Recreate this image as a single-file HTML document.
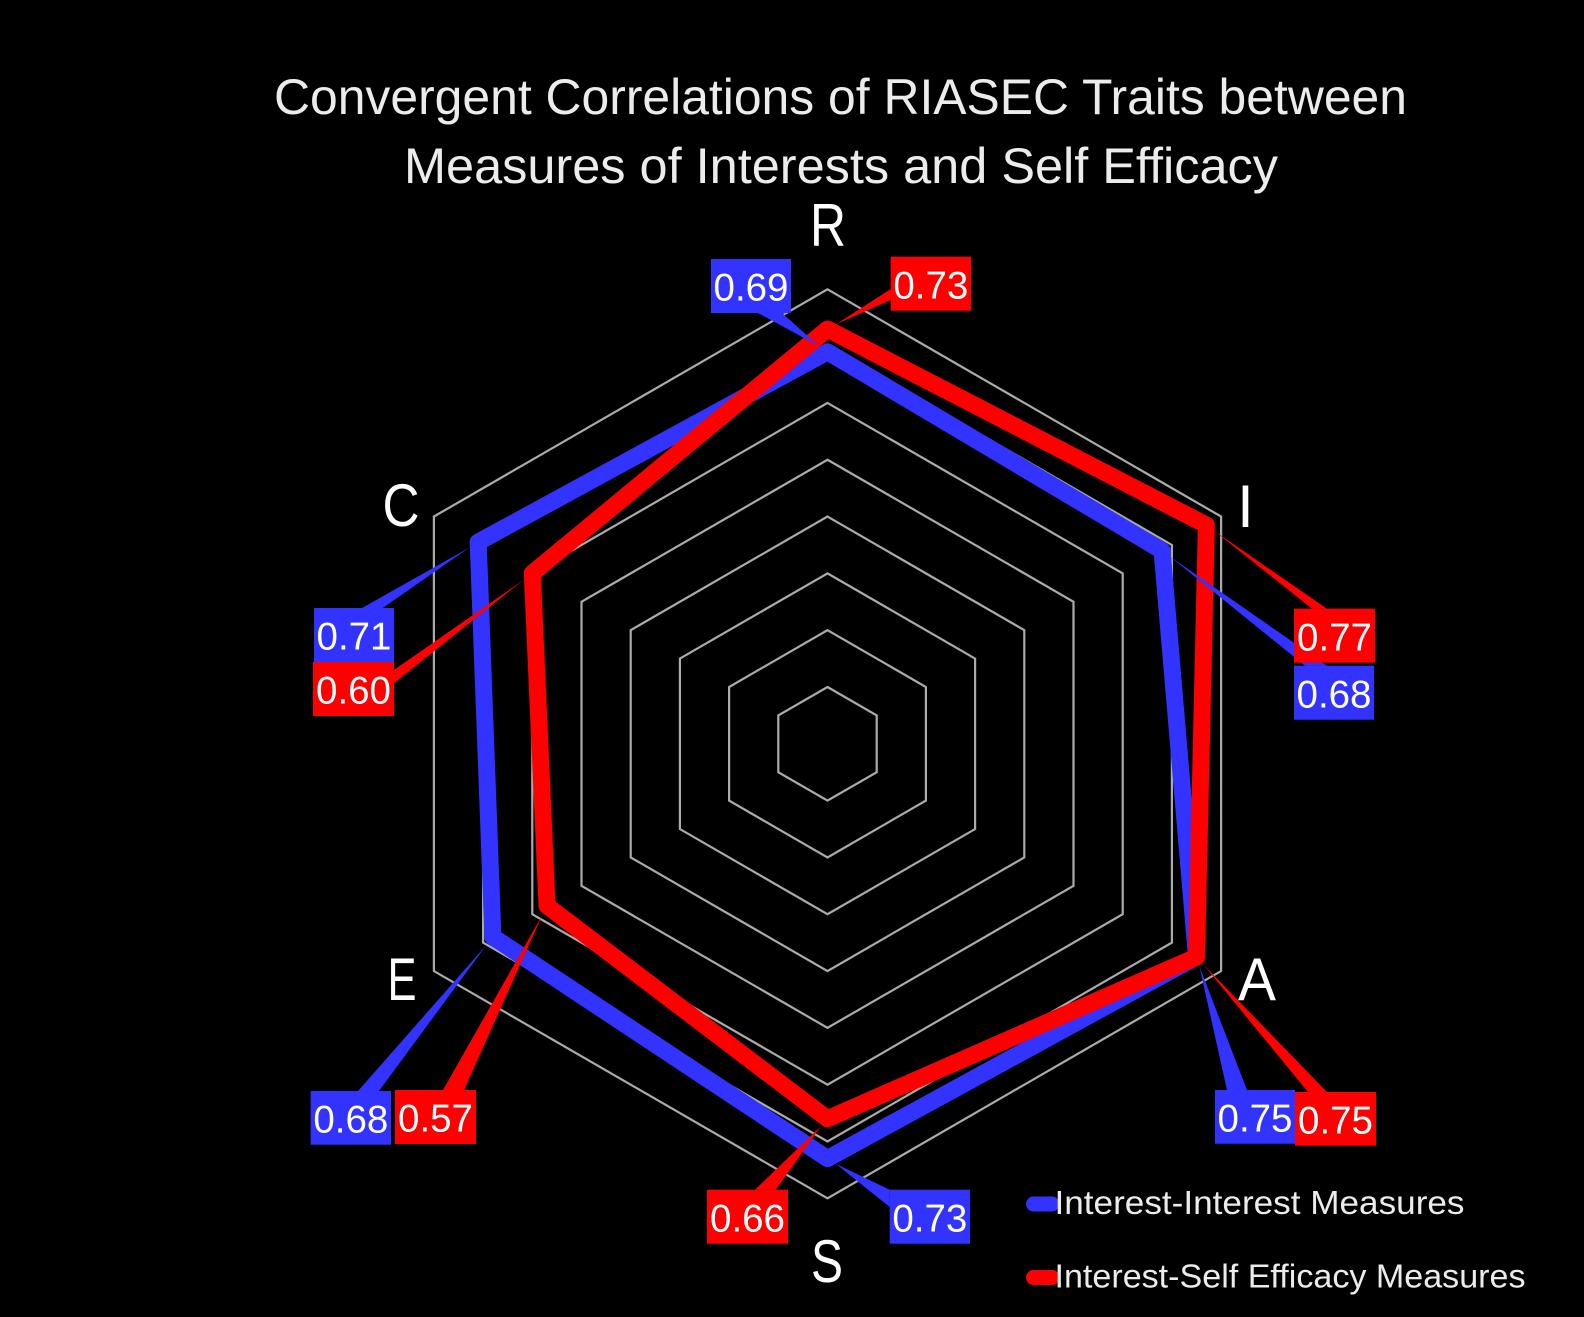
<!DOCTYPE html>
<html lang="en">
<head>
<meta charset="utf-8">
<title>Convergent Correlations of RIASEC Traits</title>
<style>
  html, body { margin: 0; padding: 0; background: #000; }
  svg { display: block; font-family: "Liberation Sans", sans-serif; }
</style>
</head>
<body>
<svg id="chart" xmlns="http://www.w3.org/2000/svg" width="1584" height="1317" viewBox="0 0 1584 1317">
  <rect x="0" y="0" width="1584" height="1317" fill="#000000"/>
  <g fill="#ececec" font-size="50">
    <text x="274" y="114" textLength="1133" lengthAdjust="spacingAndGlyphs">Convergent Correlations of RIASEC Traits between</text>
    <text x="404" y="183" textLength="874" lengthAdjust="spacingAndGlyphs">Measures of Interests and Self Efficacy</text>
  </g>
  <g id="grid"></g>
  <g id="series"></g>
  <g id="callouts"></g>
  <g id="boxes"></g>
  <g fill="#ffffff" font-size="60" text-anchor="middle">
    <text x="828" y="246" textLength="36" lengthAdjust="spacingAndGlyphs">R</text>
    <text x="1245.5" y="527">I</text>
    <text x="1257" y="1000" textLength="38" lengthAdjust="spacingAndGlyphs">A</text>
    <text x="827" y="1282" textLength="32" lengthAdjust="spacingAndGlyphs">S</text>
    <text x="402" y="1000" textLength="29" lengthAdjust="spacingAndGlyphs">E</text>
    <text x="401" y="526" textLength="37" lengthAdjust="spacingAndGlyphs">C</text>
  </g>
  <g>
    <g>
      <line x1="1033.5" y1="1204" x2="1052" y2="1204" stroke="#3333ff" stroke-width="15" stroke-linecap="round"/>
      <text x="1054.5" y="1214" font-size="33" fill="#ececec" textLength="410" lengthAdjust="spacingAndGlyphs">Interest-Interest Measures</text>
    </g>
    <g>
      <line x1="1033.5" y1="1277.5" x2="1052" y2="1277.5" stroke="#ff0000" stroke-width="15" stroke-linecap="round"/>
      <text x="1054.5" y="1287.5" font-size="33" fill="#ececec" textLength="471" lengthAdjust="spacingAndGlyphs">Interest-Self Efficacy Measures</text>
    </g>
  </g>
</svg>
<script>
// Chart data
const categories = ["R", "I", "A", "S", "E", "C"];
const interestInterest = [0.69, 0.68, 0.75, 0.73, 0.68, 0.71];
const interestSelfEfficacy = [0.73, 0.77, 0.75, 0.66, 0.57, 0.60];
const axisTicks = [0.1, 0.2, 0.3, 0.4, 0.5, 0.6, 0.7, 0.8];

// Axis geometry
const CX = 827.5, CY = 743.8, RADIUS = 454.5, AXIS_MAX = 0.8, TIP_GAP = 10;
const SVG_NS = "http://www.w3.org/2000/svg";
const BLUE = "#3333ff", RED = "#ff0000";

function radiusOf(value) { return value / AXIS_MAX * RADIUS; }
function angleOf(i) { return -Math.PI / 2 + i * 2 * Math.PI / categories.length; }
function pointAt(i, value) {
  const r = radiusOf(value), a = angleOf(i);
  return [CX + r * Math.cos(a), CY + r * Math.sin(a)];
}
function polyPoints(values) {
  return values.map(function (v, i) { return pointAt(i, v).map(function (n) { return n.toFixed(2); }).join(","); }).join(" ");
}
function make(tag, attrs) {
  const el = document.createElementNS(SVG_NS, tag);
  Object.keys(attrs).forEach(function (k) { el.setAttribute(k, attrs[k]); });
  return el;
}

// Grid rings
const gridGroup = document.getElementById("grid");
axisTicks.forEach(function (tick) {
  const ring = make("polygon", {
    points: polyPoints(categories.map(function () { return tick; })),
    fill: "none", stroke: "#ababab", "stroke-width": 2.2
  });
  
  
  gridGroup.appendChild(ring);
});

// Series outlines
const seriesGroup = document.getElementById("series");
const blueLine = make("polygon", {
  points: polyPoints(interestInterest),
  fill: "none", stroke: BLUE, "stroke-width": 17, "stroke-linejoin": "round"
});


seriesGroup.appendChild(blueLine);
const redLine = make("polygon", {
  points: polyPoints(interestSelfEfficacy),
  fill: "none", stroke: RED, "stroke-width": 17, "stroke-linejoin": "round"
});


seriesGroup.appendChild(redLine);

// Callout layout (box rectangle and wedge base, one per category, not data)
const blueLayout = [
  { box: [711, 259, 80, 54],     base: [758, 313, 782, 313] },
  { box: [1294, 665.7, 80, 54],  base: [1305, 665.7, 1327, 665.7] },
  { box: [1215, 1090, 80, 53.7], base: [1227, 1090, 1247, 1090] },
  { box: [889.7, 1189.7, 80.3, 54], base: [889.7, 1189.7, 889.7, 1207] },
  { box: [310.7, 1091, 80.3, 53.7], base: [358, 1091, 379, 1091] },
  { box: [314, 608, 80, 54],     base: [362, 608, 382.7, 608] }
];
const redLayout = [
  { box: [890.7, 256.7, 80.3, 54], base: [890.7, 289, 890.7, 300] },
  { box: [1294, 608.7, 81, 54],  base: [1312, 608.7, 1327, 608.7] },
  { box: [1295, 1092, 81, 53.7], base: [1308, 1092, 1327, 1092] },
  { box: [707, 1189.7, 81, 54],  base: [755, 1189.7, 775.7, 1189.7] },
  { box: [395, 1090, 81, 54],    base: [443, 1090, 464, 1090] },
  { box: [313, 662, 81, 54],     base: [394, 670, 394, 683] }
];

const calloutGroup = document.getElementById("callouts");
const boxGroup = document.getElementById("boxes");

function drawCallouts(values, layout, color, seriesName) {
  values.forEach(function (value, i) {
    const item = layout[i], p = pointAt(i, value), b = item.base;
    const mx = (b[0] + b[2]) / 2, my = (b[1] + b[3]) / 2;
    const d = Math.hypot(mx - p[0], my - p[1]) || 1;
    const tx = p[0] + (mx - p[0]) / d * TIP_GAP, ty = p[1] + (my - p[1]) / d * TIP_GAP;

    const wedge = make("polygon", {
      points: [tx.toFixed(2), ty.toFixed(2), b[0], b[1], b[2], b[3]].join(" "),
      fill: color
    });
    
    
    calloutGroup.appendChild(wedge);

    const group = make("g", {});
    
    
    group.setAttribute('data-series', seriesName);
    const rect = make("rect", { x: item.box[0], y: item.box[1], width: item.box[2], height: item.box[3], fill: color });
    
    
    const text = make("text", {
      x: item.box[0] + item.box[2] / 2, y: item.box[1] + 41.6,
      fill: "#ffffff", "font-size": 38.5, "text-anchor": "middle"
    });
    
    
    text.textContent = value.toFixed(2);
    group.appendChild(rect);
    group.appendChild(text);
    boxGroup.appendChild(group);
  });
}
drawCallouts(interestInterest, blueLayout, BLUE, "interest-interest");
drawCallouts(interestSelfEfficacy, redLayout, RED, "interest-self-efficacy");
</script>
</body>
</html>
